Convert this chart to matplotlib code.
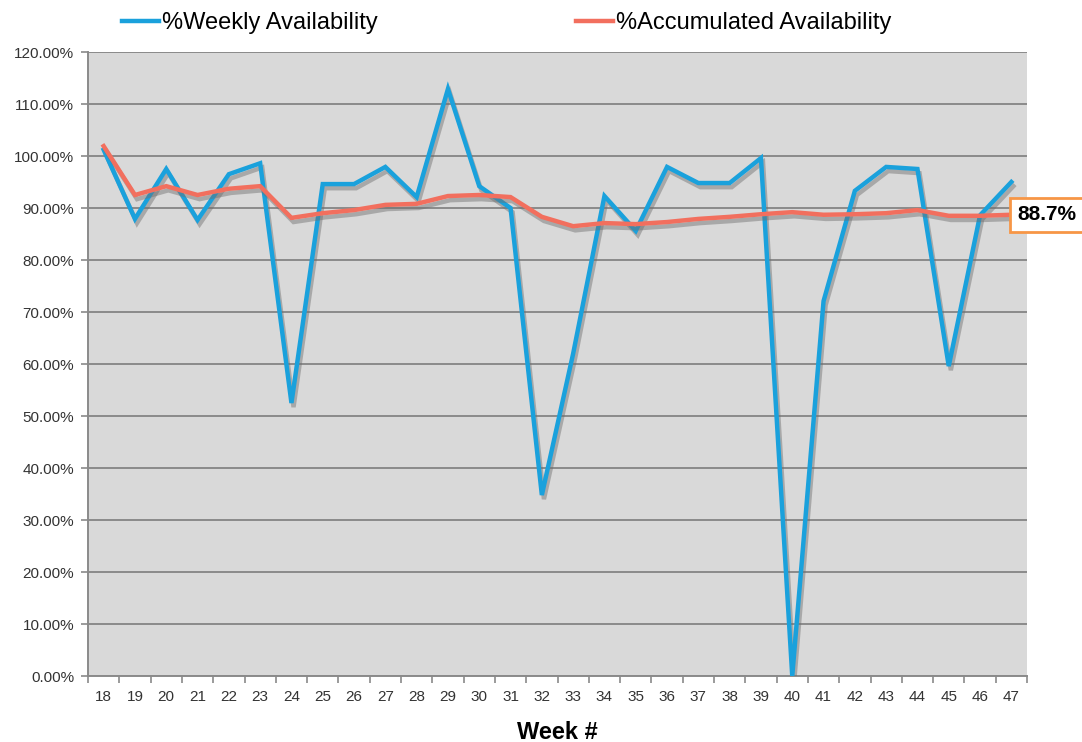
import matplotlib
matplotlib.use("Agg")
import matplotlib.pyplot as plt
import matplotlib.patheffects as pe
from matplotlib.lines import Line2D
from matplotlib.ticker import FixedLocator, FuncFormatter

weeks = list(range(18, 48))
weekly = [101.2, 87.9, 97.5, 87.7, 96.5, 98.6, 52.5, 94.6, 94.6, 97.9,
          92.1, 112.9, 94.2, 90.0, 34.8, 62.0, 92.3, 85.6, 97.9, 94.8,
          94.8, 99.6, 0.0, 72.1, 93.3, 97.9, 97.5, 59.6, 88.6, 95.0]
accumulated = [101.9, 92.5, 94.2, 92.5, 93.7, 94.2, 88.1, 89.0, 89.6, 90.6,
               90.8, 92.3, 92.5, 92.1, 88.3, 86.5, 87.1, 86.9, 87.3, 87.9,
               88.3, 88.8, 89.2, 88.7, 88.8, 89.0, 89.6, 88.5, 88.5, 88.7]
final_label = "88.7%"

BLUE = "#1aa1dc"
RED = "#f26f5e"
GRID = "#8a8a8a"

plt.rcParams["font.family"] = ["Liberation Sans", "DejaVu Sans"]

fig = plt.figure(figsize=(10.82, 7.42), dpi=100)
ax = fig.add_axes([88 / 1082, 1 - 676 / 742, (1027 - 88) / 1082, (676 - 52) / 742])
ax.set_facecolor("#d9d9d9")

x = list(range(len(weeks)))
shadow = [pe.SimpleLineShadow(offset=(1.5, -3), shadow_color="#6e6e6e", alpha=0.45), pe.Normal()]
ax.plot(x, weekly, color=BLUE, lw=3.2, solid_joinstyle="miter", path_effects=shadow, zorder=4)
ax.plot(x, accumulated, color=RED, lw=3.2, solid_joinstyle="miter", path_effects=shadow, zorder=5)

ax.set_xlim(-0.5, len(weeks) - 0.5)
ax.set_ylim(0, 120)
ax.set_yticks(range(0, 121, 10))
ax.yaxis.set_major_formatter(FuncFormatter(lambda v, p: f"{v:.2f}%"))
ax.yaxis.grid(True, color=GRID, lw=1.4)
ax.set_axisbelow(True)

ax.set_xticks(x)
ax.set_xticklabels([str(w) for w in weeks])
ax.xaxis.set_minor_locator(FixedLocator([i - 0.5 for i in range(len(weeks) + 1)]))
ax.tick_params(axis="x", which="major", length=0, pad=10, labelsize=11, labelcolor="#333333")
ax.tick_params(axis="x", which="minor", length=5, color=GRID, width=1.2)
ax.tick_params(axis="y", length=5, color=GRID, width=1.2, pad=5, labelsize=11, labelcolor="#333333")

for s in ["top", "right"]:
    ax.spines[s].set_visible(False)
for s in ["left", "bottom"]:
    ax.spines[s].set_color(GRID)
    ax.spines[s].set_linewidth(1.4)

ax.set_xlabel("Week #", fontsize=17, fontweight="bold", labelpad=12)

ax.annotate(final_label, xy=(x[-1], accumulated[-1]), xytext=(4, 0), textcoords="offset points",
            ha="left", va="center", fontsize=15, fontweight="bold", annotation_clip=False,
            bbox=dict(boxstyle="square,pad=0.35", fc="white", ec="#f79646", lw=2), zorder=10)

handles = [Line2D([], [], color=BLUE, lw=3.2), Line2D([], [], color=RED, lw=3.2)]
fig.legend(handles=handles, labels=["%Weekly Availability", "%Accumulated Availability"],
           loc="upper left", bbox_to_anchor=(101 / 1082, 1.012), ncol=2,
           frameon=False, fontsize=17, handlelength=1.55, handletextpad=0.13, columnspacing=8.4)

fig.savefig("out.png", dpi=100)
